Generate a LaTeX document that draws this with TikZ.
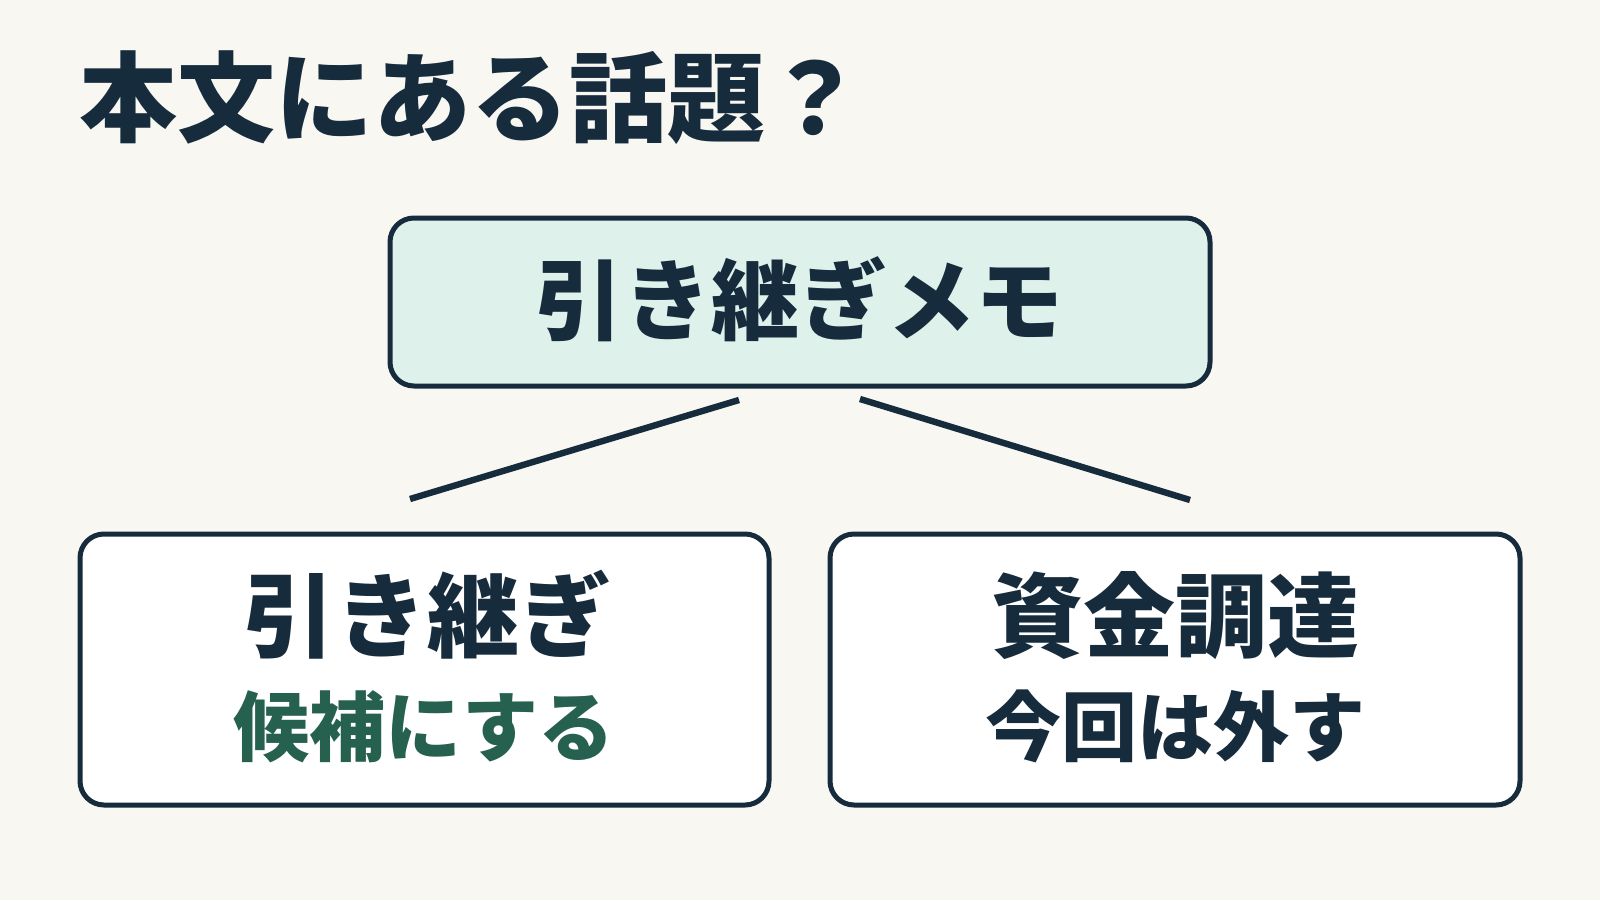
\documentclass[tikz,border=0pt]{standalone}
\usepackage{fontspec}
\newfontfamily\cjk{Noto Sans CJK JP Black}
\definecolor{bgc}{HTML}{F8F7F2}
\definecolor{navy}{HTML}{162B3C}
\definecolor{mint}{HTML}{DEF2EB}
\definecolor{leaf}{HTML}{26604E}
\tikzset{
  box/.style={draw=navy, line width=2.5pt, rounded corners=12pt, inner sep=0pt},
  topbox/.style={box, fill=mint},
  botbox/.style={box, fill=white},
  txt/.style={inner sep=0pt, anchor=base, text=navy, font=\cjk},
  link/.style={draw=navy, line width=3.2pt},
}
\begin{document}
\begin{tikzpicture}[x=0.5pt,y=-0.5pt]
\path[fill=bgc] (0,0) rectangle (1600,900);
\useasboundingbox (0,0) rectangle (1600,900);
% title
\node[txt, anchor=base west, font=\cjk\fontsize{49pt}{52pt}\selectfont] (title) at (79,134) {本文にある話題？};
% boxes
\node[topbox, minimum width=410pt, minimum height=84pt] (top) at (800,302) {};
\node[botbox, minimum width=344.5pt, minimum height=135.5pt] (left) at (424.5,669.5) {};
\node[botbox, minimum width=345pt, minimum height=135.5pt] (right) at (1175,669.5) {};
% texts
\node[txt, font=\cjk\fontsize{44pt}{48pt}\selectfont] (toptxt) at (799,333) {引き継ぎメモ};
\node[txt, font=\cjk\fontsize{46pt}{50pt}\selectfont] (lefttxt) at (427,650) {引き継ぎ};
\node[txt, text=leaf, font=\cjk\fontsize{38pt}{42pt}\selectfont] (leftsub) at (424,755) {候補にする};
\node[txt, font=\cjk\fontsize{46pt}{50pt}\selectfont] (righttxt) at (1175,650) {資金調達};
\node[txt, font=\cjk\fontsize{38pt}{42pt}\selectfont] (rightsub) at (1175,755) {今回は外す};
% connectors
\coordinate (la) at (739,400);
\coordinate (lb) at (410,499);
\coordinate (ra) at (860,399);
\coordinate (rb) at (1190,500);
\draw[link] (la) -- (lb);
\draw[link] (ra) -- (rb);
\end{tikzpicture}
\end{document}
